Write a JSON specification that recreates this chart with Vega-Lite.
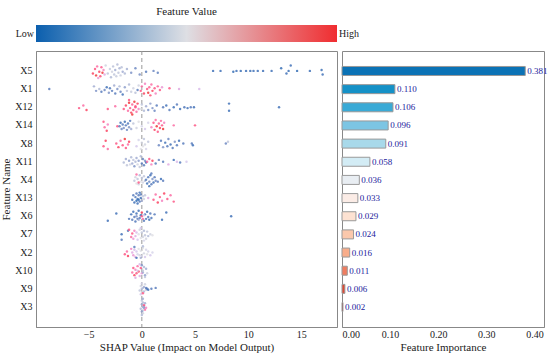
{
"$schema":"https://vega.github.io/schema/vega-lite/v6.json",
"background":"white",
"padding":{"left":0,"top":6,"right":0,"bottom":2},
"config":{"font":"Liberation Serif","view":{"stroke":"#888"},"axis":{"labelFont":"Liberation Serif","titleFont":"Liberation Serif","labelColor":"#222","titleColor":"#222","titleFontWeight":"normal","labelFontSize":10,"titleFontSize":11,"domainColor":"#888","ticks":false,"grid":false}},
"datasets":{
"pts":[
{"f":"X5","s":-4.6,"v":0.95,"j":0.3},{"f":"X5","s":-4.4,"v":0.9,"j":-0.2},{"f":"X5","s":-4.3,"v":1,"j":0.5},{"f":"X5","s":-4.2,"v":0.85,"j":-0.5},{"f":"X5","s":-4.0,"v":0.95,"j":0.1},{"f":"X5","s":-3.9,"v":0.92,"j":0.6},{"f":"X5","s":-3.8,"v":0.88,"j":-0.4},{"f":"X5","s":-3.7,"v":1,"j":0.2},{"f":"X5","s":-3.6,"v":0.8,"j":-0.1},{"f":"X5","s":-4.1,"v":0.75,"j":0.8},{"f":"X5","s":-3.5,"v":0.7,"j":0.4},
{"f":"X5","s":-3.4,"v":0.45,"j":-0.6},{"f":"X5","s":-3.2,"v":0.4,"j":0.3},{"f":"X5","s":-3.0,"v":0.42,"j":-0.2},{"f":"X5","s":-2.9,"v":0.35,"j":0.7},{"f":"X5","s":-2.8,"v":0.45,"j":0.1},{"f":"X5","s":-2.7,"v":0.38,"j":-0.5},{"f":"X5","s":-2.6,"v":0.4,"j":0.4},{"f":"X5","s":-2.5,"v":0.3,"j":-0.1},{"f":"X5","s":-2.4,"v":0.42,"j":0.6},{"f":"X5","s":-2.3,"v":0.36,"j":-0.7},{"f":"X5","s":-2.2,"v":0.4,"j":0.2},{"f":"X5","s":-2.1,"v":0.33,"j":-0.3},{"f":"X5","s":-2.0,"v":0.44,"j":0.5},{"f":"X5","s":-1.9,"v":0.38,"j":-0.4},{"f":"X5","s":-1.8,"v":0.3,"j":0.1},{"f":"X5","s":-1.6,"v":0.35,"j":0.3},{"f":"X5","s":-1.4,"v":0.32,"j":-0.2},
{"f":"X5","s":-1.0,"v":0.2,"j":0.2},{"f":"X5","s":-0.6,"v":0.15,"j":-0.3},{"f":"X5","s":-0.2,"v":0.18,"j":0.4},{"f":"X5","s":0.4,"v":0.1,"j":0.1},{"f":"X5","s":1.1,"v":0.15,"j":0.0},{"f":"X5","s":1.5,"v":0.12,"j":0.2},
{"f":"X5","s":6.7,"v":0.05,"j":0.0},{"f":"X5","s":7.4,"v":0.05,"j":0.0},{"f":"X5","s":8.6,"v":0.03,"j":0.1},{"f":"X5","s":8.9,"v":0.05,"j":0.0},{"f":"X5","s":9.3,"v":0.04,"j":0.0},{"f":"X5","s":9.8,"v":0.05,"j":0.0},{"f":"X5","s":10.2,"v":0.04,"j":0.0},{"f":"X5","s":10.5,"v":0.05,"j":0.0},{"f":"X5","s":10.9,"v":0.05,"j":0.0},{"f":"X5","s":11.4,"v":0.05,"j":0.0},{"f":"X5","s":12.2,"v":0.05,"j":0.0},{"f":"X5","s":13.1,"v":0.03,"j":-0.3},{"f":"X5","s":13.6,"v":0.05,"j":0.3},{"f":"X5","s":13.8,"v":0.04,"j":0.0},{"f":"X5","s":14.0,"v":0.05,"j":-0.6},{"f":"X5","s":14.6,"v":0.03,"j":0.0},{"f":"X5","s":15.8,"v":0.05,"j":0.0},{"f":"X5","s":16.9,"v":0.04,"j":-0.1},{"f":"X5","s":17.0,"v":0.05,"j":0.4},
{"f":"X1","s":-8.7,"v":0.1,"j":0.0},
{"f":"X1","s":-4.5,"v":0.3,"j":-0.3},{"f":"X1","s":-4.3,"v":0.2,"j":0.2},{"f":"X1","s":-4.0,"v":0.35,"j":0.0},{"f":"X1","s":-3.8,"v":0.1,"j":0.3},{"f":"X1","s":-3.5,"v":0.15,"j":0.1},{"f":"X1","s":-3.3,"v":0.05,"j":-0.2},{"f":"X1","s":-3.1,"v":0.2,"j":0.4},{"f":"X1","s":-3.0,"v":0.08,"j":-0.1},{"f":"X1","s":-2.8,"v":0.12,"j":0.2},{"f":"X1","s":-2.6,"v":0.3,"j":-0.4},{"f":"X1","s":-2.5,"v":0.1,"j":0.5},{"f":"X1","s":-2.3,"v":0.2,"j":0.0},{"f":"X1","s":-2.1,"v":0.35,"j":-0.3},{"f":"X1","s":-2.0,"v":0.15,"j":0.3},{"f":"X1","s":-1.8,"v":0.05,"j":0.6},{"f":"X1","s":-1.6,"v":0.25,"j":-0.2},{"f":"X1","s":-1.4,"v":0.4,"j":0.2},{"f":"X1","s":-1.2,"v":0.35,"j":-0.5},{"f":"X1","s":-1.0,"v":0.42,"j":0.3},{"f":"X1","s":-0.8,"v":0.45,"j":-0.1},{"f":"X1","s":-0.6,"v":0.38,"j":0.4},{"f":"X1","s":-0.4,"v":0.1,"j":0.1},{"f":"X1","s":-0.3,"v":0.45,"j":-0.4},
{"f":"X1","s":-0.1,"v":0.9,"j":0.2},{"f":"X1","s":0.0,"v":0.85,"j":-0.3},{"f":"X1","s":0.2,"v":0.95,"j":0.5},{"f":"X1","s":0.3,"v":0.8,"j":-0.6},{"f":"X1","s":0.5,"v":0.9,"j":0.0},{"f":"X1","s":0.6,"v":1,"j":0.4},{"f":"X1","s":0.7,"v":0.88,"j":-0.2},{"f":"X1","s":0.8,"v":0.92,"j":0.7},{"f":"X1","s":0.9,"v":0.85,"j":-0.5},{"f":"X1","s":1.0,"v":0.95,"j":0.2},{"f":"X1","s":1.2,"v":0.9,"j":-0.1},{"f":"X1","s":1.3,"v":0.8,"j":0.5},{"f":"X1","s":1.5,"v":0.87,"j":-0.3},{"f":"X1","s":1.7,"v":0.9,"j":0.1},{"f":"X1","s":1.9,"v":0.75,"j":-0.2},{"f":"X1","s":2.6,"v":0.9,"j":-0.1},{"f":"X1","s":3.5,"v":0.7,"j":0.0},{"f":"X1","s":5.4,"v":0.65,"j":0.0},
{"f":"X12","s":-5.9,"v":0.9,"j":0.1},{"f":"X12","s":-5.5,"v":0.85,"j":-0.2},{"f":"X12","s":-5.2,"v":0.95,"j":0.3},{"f":"X12","s":-3.2,"v":0.9,"j":0.2},{"f":"X12","s":-2.5,"v":0.85,"j":-0.1},
{"f":"X12","s":-1.7,"v":0.9,"j":0.2},{"f":"X12","s":-1.5,"v":0.95,"j":-0.2},{"f":"X12","s":-1.3,"v":0.85,"j":0.4},{"f":"X12","s":-1.2,"v":1,"j":-0.5},{"f":"X12","s":-1.1,"v":0.9,"j":0.1},{"f":"X12","s":-1.0,"v":0.95,"j":0.6},{"f":"X12","s":-0.9,"v":0.88,"j":-0.3},{"f":"X12","s":-0.8,"v":0.92,"j":0.3},{"f":"X12","s":-0.7,"v":1,"j":-0.6},{"f":"X12","s":-0.6,"v":0.9,"j":0.0},{"f":"X12","s":-0.5,"v":0.85,"j":0.5},{"f":"X12","s":-0.4,"v":0.95,"j":-0.4},{"f":"X12","s":-0.3,"v":0.8,"j":0.2},{"f":"X12","s":-0.6,"v":0.9,"j":-0.1},{"f":"X12","s":-0.9,"v":1,"j":0.8},{"f":"X12","s":-1.2,"v":0.9,"j":-0.8},
{"f":"X12","s":-0.1,"v":0.5,"j":0.2},{"f":"X12","s":0.0,"v":0.4,"j":-0.3},{"f":"X12","s":0.2,"v":0.35,"j":0.4},{"f":"X12","s":0.4,"v":0.3,"j":-0.1},{"f":"X12","s":0.6,"v":0.2,"j":0.3},{"f":"X12","s":0.8,"v":0.25,"j":-0.4},{"f":"X12","s":1.0,"v":0.2,"j":0.1},{"f":"X12","s":1.2,"v":0.15,"j":0.4},{"f":"X12","s":1.4,"v":0.1,"j":-0.2},
{"f":"X12","s":2.0,"v":0.1,"j":0.0},{"f":"X12","s":2.3,"v":0.05,"j":-0.2},{"f":"X12","s":2.6,"v":0.1,"j":0.3},{"f":"X12","s":3.0,"v":0.05,"j":0.0},{"f":"X12","s":3.3,"v":0.1,"j":-0.3},{"f":"X12","s":3.6,"v":0.05,"j":0.2},{"f":"X12","s":4.0,"v":0.08,"j":0.0},{"f":"X12","s":4.3,"v":0.05,"j":0.1},{"f":"X12","s":4.6,"v":0.1,"j":0.0},{"f":"X12","s":4.9,"v":0.05,"j":0.0},{"f":"X12","s":8.2,"v":0.05,"j":-0.4},{"f":"X12","s":8.2,"v":0.05,"j":0.4},{"f":"X12","s":12.9,"v":0.05,"j":0.0},
{"f":"X14","s":-3.6,"v":0.9,"j":-0.4},{"f":"X14","s":-3.5,"v":0.85,"j":0.2},{"f":"X14","s":-3.3,"v":0.95,"j":0.6},{"f":"X14","s":-3.2,"v":0.8,"j":-0.1},{"f":"X14","s":-2.3,"v":0.9,"j":0.1},
{"f":"X14","s":-2.1,"v":0.1,"j":0.1},{"f":"X14","s":-2.0,"v":0.05,"j":-0.3},{"f":"X14","s":-1.9,"v":0.15,"j":0.4},{"f":"X14","s":-1.8,"v":0.1,"j":-0.1},{"f":"X14","s":-1.7,"v":0.2,"j":0.3},{"f":"X14","s":-1.6,"v":0.05,"j":-0.4},{"f":"X14","s":-1.5,"v":0.1,"j":0.0},{"f":"X14","s":-1.4,"v":0.15,"j":0.5},{"f":"X14","s":-1.3,"v":0.08,"j":-0.2},{"f":"X14","s":-1.2,"v":0.2,"j":0.2},{"f":"X14","s":-1.1,"v":0.1,"j":-0.5},{"f":"X14","s":-1.0,"v":0.3,"j":0.4},
{"f":"X14","s":-0.8,"v":0.4,"j":-0.2},{"f":"X14","s":-0.5,"v":0.45,"j":0.3},{"f":"X14","s":-0.3,"v":0.5,"j":-0.4},{"f":"X14","s":0.0,"v":0.55,"j":0.1},{"f":"X14","s":0.3,"v":0.6,"j":0.4},{"f":"X14","s":0.6,"v":0.55,"j":-0.3},
{"f":"X14","s":0.9,"v":0.8,"j":0.2},{"f":"X14","s":1.1,"v":0.9,"j":-0.3},{"f":"X14","s":1.2,"v":0.95,"j":0.5},{"f":"X14","s":1.3,"v":0.85,"j":-0.6},{"f":"X14","s":1.4,"v":1,"j":0.1},{"f":"X14","s":1.5,"v":0.9,"j":0.7},{"f":"X14","s":1.6,"v":0.88,"j":-0.2},{"f":"X14","s":1.7,"v":0.95,"j":0.3},{"f":"X14","s":1.8,"v":0.85,"j":-0.5},{"f":"X14","s":1.9,"v":0.9,"j":0.0},{"f":"X14","s":2.0,"v":1,"j":0.4},{"f":"X14","s":2.1,"v":0.8,"j":-0.3},{"f":"X14","s":3.0,"v":0.85,"j":0.0},{"f":"X14","s":5.0,"v":0.9,"j":0.0},
{"f":"X8","s":-3.6,"v":0.9,"j":0.3},{"f":"X8","s":-3.4,"v":0.95,"j":-0.3},{"f":"X8","s":-3.2,"v":0.85,"j":0.6},
{"f":"X8","s":-2.4,"v":0.9,"j":0.0},{"f":"X8","s":-2.2,"v":0.95,"j":0.4},{"f":"X8","s":-2.0,"v":0.85,"j":-0.3},{"f":"X8","s":-1.8,"v":0.9,"j":0.2},{"f":"X8","s":-1.6,"v":1,"j":-0.5},{"f":"X8","s":-1.5,"v":0.9,"j":0.5},{"f":"X8","s":-1.3,"v":0.85,"j":0.1},{"f":"X8","s":-1.2,"v":0.95,"j":-0.2},
{"f":"X8","s":-0.5,"v":0.6,"j":0.3},{"f":"X8","s":-0.3,"v":0.55,"j":-0.4},{"f":"X8","s":-0.1,"v":0.5,"j":0.6},{"f":"X8","s":0.0,"v":0.45,"j":-0.1},{"f":"X8","s":0.1,"v":0.5,"j":0.3},{"f":"X8","s":0.2,"v":0.4,"j":-0.5},{"f":"X8","s":0.3,"v":0.45,"j":0.1},{"f":"X8","s":0.4,"v":0.55,"j":0.6},{"f":"X8","s":0.6,"v":0.4,"j":-0.2},
{"f":"X8","s":1.6,"v":0.15,"j":0.2},{"f":"X8","s":1.8,"v":0.1,"j":-0.3},{"f":"X8","s":2.0,"v":0.2,"j":0.4},{"f":"X8","s":2.2,"v":0.05,"j":-0.1},{"f":"X8","s":2.4,"v":0.1,"j":0.3},{"f":"X8","s":2.5,"v":0.15,"j":-0.5},{"f":"X8","s":2.7,"v":0.05,"j":0.1},{"f":"X8","s":2.9,"v":0.1,"j":0.5},{"f":"X8","s":3.1,"v":0.2,"j":-0.2},{"f":"X8","s":3.3,"v":0.1,"j":0.2},{"f":"X8","s":3.5,"v":0.05,"j":-0.3},{"f":"X8","s":3.9,"v":0.1,"j":0.0},{"f":"X8","s":4.7,"v":0.1,"j":0.0},{"f":"X8","s":4.8,"v":0.05,"j":0.2},{"f":"X8","s":7.9,"v":0.15,"j":0.0},{"f":"X8","s":8.1,"v":0.4,"j":-0.2},
{"f":"X11","s":-1.7,"v":0.35,"j":0.1},{"f":"X11","s":-1.5,"v":0.3,"j":-0.3},{"f":"X11","s":-1.4,"v":0.4,"j":0.4},{"f":"X11","s":-1.2,"v":0.25,"j":-0.1},{"f":"X11","s":-1.1,"v":0.45,"j":0.3},{"f":"X11","s":-1.0,"v":0.35,"j":-0.5},{"f":"X11","s":-0.9,"v":0.3,"j":0.2},{"f":"X11","s":-0.8,"v":0.4,"j":-0.2},{"f":"X11","s":-0.7,"v":0.2,"j":0.5},{"f":"X11","s":-0.6,"v":0.35,"j":0.0},{"f":"X11","s":-0.5,"v":0.3,"j":-0.4},{"f":"X11","s":-0.4,"v":0.45,"j":0.3},{"f":"X11","s":-0.3,"v":0.25,"j":-0.1},{"f":"X11","s":-0.2,"v":0.4,"j":0.6},{"f":"X11","s":-0.1,"v":0.35,"j":-0.6},{"f":"X11","s":0.0,"v":0.1,"j":0.2},{"f":"X11","s":0.1,"v":0.15,"j":-0.3},{"f":"X11","s":0.2,"v":0.1,"j":0.4},{"f":"X11","s":0.3,"v":0.2,"j":-0.1},{"f":"X11","s":0.4,"v":0.05,"j":0.1},
{"f":"X11","s":0.5,"v":0.85,"j":0.0},{"f":"X11","s":0.7,"v":0.9,"j":-0.3},{"f":"X11","s":0.9,"v":0.8,"j":0.3},{"f":"X11","s":1.0,"v":0.95,"j":-0.1},
{"f":"X11","s":1.3,"v":0.1,"j":0.2},{"f":"X11","s":1.6,"v":0.15,"j":-0.2},{"f":"X11","s":2.0,"v":0.1,"j":0.0},{"f":"X11","s":3.0,"v":0.05,"j":-0.2},{"f":"X11","s":3.6,"v":0.1,"j":0.1},{"f":"X11","s":2.5,"v":0.7,"j":0.3},{"f":"X11","s":3.3,"v":0.65,"j":0.0},{"f":"X11","s":4.2,"v":0.6,"j":0.0},
{"f":"X4","s":-0.7,"v":0.4,"j":0.1},{"f":"X4","s":-0.6,"v":0.45,"j":-0.3},{"f":"X4","s":-0.5,"v":0.5,"j":0.4},{"f":"X4","s":-0.4,"v":0.4,"j":-0.1},{"f":"X4","s":-0.3,"v":0.45,"j":0.5},{"f":"X4","s":-0.2,"v":0.35,"j":-0.5},{"f":"X4","s":-0.1,"v":0.5,"j":0.2},{"f":"X4","s":0.0,"v":0.4,"j":-0.2},{"f":"X4","s":0.1,"v":0.45,"j":0.3},{"f":"X4","s":0.2,"v":0.4,"j":-0.4},{"f":"X4","s":0.3,"v":0.35,"j":0.1},{"f":"X4","s":-0.3,"v":0.9,"j":0.3},{"f":"X4","s":-0.5,"v":0.85,"j":-0.6},
{"f":"X4","s":0.4,"v":0.1,"j":0.0},{"f":"X4","s":0.5,"v":0.05,"j":0.4},{"f":"X4","s":0.6,"v":0.1,"j":-0.3},{"f":"X4","s":0.7,"v":0.15,"j":0.2},{"f":"X4","s":0.8,"v":0.05,"j":-0.5},{"f":"X4","s":0.9,"v":0.1,"j":0.5},{"f":"X4","s":1.0,"v":0.2,"j":-0.1},{"f":"X4","s":1.1,"v":0.05,"j":0.3},{"f":"X4","s":1.2,"v":0.1,"j":-0.3},{"f":"X4","s":1.3,"v":0.15,"j":0.1},{"f":"X4","s":0.7,"v":0.05,"j":0.7},{"f":"X4","s":0.9,"v":0.1,"j":-0.7},{"f":"X4","s":1.5,"v":0.1,"j":0.2},{"f":"X4","s":1.8,"v":0.05,"j":-0.1},{"f":"X4","s":2.0,"v":0.1,"j":0.1},
{"f":"X13","s":-0.9,"v":0.05,"j":0.2},{"f":"X13","s":-0.8,"v":0.1,"j":-0.3},{"f":"X13","s":-0.7,"v":0.05,"j":0.5},{"f":"X13","s":-0.6,"v":0.08,"j":-0.1},{"f":"X13","s":-0.5,"v":0.02,"j":0.3},{"f":"X13","s":-0.5,"v":0.1,"j":-0.5},{"f":"X13","s":-0.4,"v":0.05,"j":0.1},{"f":"X13","s":-0.4,"v":0.05,"j":0.6},{"f":"X13","s":-0.3,"v":0.1,"j":-0.3},{"f":"X13","s":-0.3,"v":0.03,"j":0.2},{"f":"X13","s":-0.2,"v":0.05,"j":-0.6},{"f":"X13","s":-0.2,"v":0.08,"j":0.4},{"f":"X13","s":-0.1,"v":0.05,"j":0.0},{"f":"X13","s":-0.1,"v":0.1,"j":-0.4},{"f":"X13","s":0.0,"v":0.3,"j":0.3},{"f":"X13","s":0.1,"v":0.4,"j":-0.2},{"f":"X13","s":0.2,"v":0.45,"j":0.1},{"f":"X13","s":0.3,"v":0.4,"j":-0.3},
{"f":"X13","s":1.1,"v":0.9,"j":0.2},{"f":"X13","s":1.3,"v":0.85,"j":-0.4},{"f":"X13","s":1.5,"v":0.95,"j":0.5},{"f":"X13","s":1.7,"v":0.9,"j":-0.1},{"f":"X13","s":1.9,"v":0.8,"j":0.3},{"f":"X13","s":2.1,"v":0.95,"j":-0.5},{"f":"X13","s":2.4,"v":0.9,"j":0.1},{"f":"X13","s":2.7,"v":0.85,"j":-0.3},{"f":"X13","s":3.0,"v":0.9,"j":0.4},{"f":"X13","s":0.6,"v":0.7,"j":0.0},
{"f":"X6","s":-3.2,"v":0.05,"j":0.5},{"f":"X6","s":-2.4,"v":0.05,"j":-0.3},{"f":"X6","s":-1.2,"v":0.1,"j":0.3},{"f":"X6","s":-1.0,"v":0.05,"j":-0.2},{"f":"X6","s":-0.9,"v":0.1,"j":0.4},{"f":"X6","s":-0.8,"v":0.05,"j":-0.5},{"f":"X6","s":-0.7,"v":0.1,"j":0.1},{"f":"X6","s":-0.6,"v":0.08,"j":0.6},{"f":"X6","s":-0.5,"v":0.05,"j":-0.3},{"f":"X6","s":-0.4,"v":0.1,"j":0.3},{"f":"X6","s":-0.3,"v":0.05,"j":-0.6},{"f":"X6","s":-0.2,"v":0.1,"j":0.2},{"f":"X6","s":-0.1,"v":0.05,"j":-0.1},{"f":"X6","s":0.0,"v":0.9,"j":0.0},{"f":"X6","s":0.1,"v":0.85,"j":0.3},{"f":"X6","s":0.0,"v":0.95,"j":-0.4},{"f":"X6","s":0.2,"v":0.1,"j":0.5},{"f":"X6","s":0.3,"v":0.05,"j":-0.2},{"f":"X6","s":0.4,"v":0.1,"j":0.3},{"f":"X6","s":0.5,"v":0.05,"j":-0.5},{"f":"X6","s":0.6,"v":0.1,"j":0.1},{"f":"X6","s":0.7,"v":0.05,"j":0.4},{"f":"X6","s":0.8,"v":0.1,"j":-0.3},{"f":"X6","s":0.9,"v":0.08,"j":0.2},{"f":"X6","s":1.2,"v":0.1,"j":-0.2},{"f":"X6","s":1.9,"v":0.05,"j":0.4},{"f":"X6","s":2.3,"v":0.05,"j":-0.4},{"f":"X6","s":8.4,"v":0.05,"j":0.0},{"f":"X6","s":-0.3,"v":0.3,"j":0.4},{"f":"X6","s":0.2,"v":0.6,"j":-0.1},{"f":"X6","s":-0.5,"v":0.2,"j":0.0},
{"f":"X7","s":-1.9,"v":0.05,"j":0.0},{"f":"X7","s":-1.9,"v":0.1,"j":0.6},{"f":"X7","s":-1.3,"v":0.1,"j":-0.4},{"f":"X7","s":-1.2,"v":0.9,"j":-0.5},{"f":"X7","s":-1.0,"v":0.85,"j":0.3},{"f":"X7","s":-0.9,"v":0.9,"j":-0.1},{"f":"X7","s":-0.8,"v":0.75,"j":0.5},{"f":"X7","s":-0.7,"v":0.8,"j":-0.4},{"f":"X7","s":-0.6,"v":0.7,"j":0.2},{"f":"X7","s":-0.5,"v":0.65,"j":-0.2},{"f":"X7","s":-0.4,"v":0.6,"j":0.6},
{"f":"X7","s":-0.3,"v":0.5,"j":0.0},{"f":"X7","s":-0.2,"v":0.45,"j":-0.5},{"f":"X7","s":-0.1,"v":0.5,"j":0.4},{"f":"X7","s":0.0,"v":0.4,"j":-0.2},{"f":"X7","s":0.1,"v":0.45,"j":0.3},{"f":"X7","s":0.2,"v":0.35,"j":-0.4},{"f":"X7","s":0.3,"v":0.4,"j":0.1},{"f":"X7","s":0.4,"v":0.45,"j":0.5},{"f":"X7","s":0.5,"v":0.4,"j":-0.3},{"f":"X7","s":0.6,"v":0.35,"j":0.2},{"f":"X7","s":0.8,"v":0.45,"j":0.0},{"f":"X7","s":1.0,"v":0.5,"j":0.1},{"f":"X7","s":0.2,"v":0.55,"j":0.7},{"f":"X7","s":-0.1,"v":0.6,"j":-0.7},
{"f":"X2","s":-1.6,"v":0.9,"j":0.2},{"f":"X2","s":-1.4,"v":0.85,"j":-0.1},{"f":"X2","s":-1.3,"v":0.95,"j":0.4},{"f":"X2","s":-1.0,"v":0.8,"j":-0.4},{"f":"X2","s":-0.9,"v":0.7,"j":0.0},{"f":"X2","s":-0.8,"v":0.75,"j":0.3},{"f":"X2","s":-0.7,"v":0.65,"j":-0.3},{"f":"X2","s":-0.6,"v":0.7,"j":0.5},{"f":"X2","s":-0.5,"v":0.6,"j":-0.1},{"f":"X2","s":-0.7,"v":0.1,"j":-0.6},{"f":"X2","s":-0.5,"v":0.05,"j":0.6},
{"f":"X2","s":-0.4,"v":0.55,"j":0.2},{"f":"X2","s":-0.3,"v":0.5,"j":-0.4},{"f":"X2","s":-0.2,"v":0.45,"j":0.3},{"f":"X2","s":-0.1,"v":0.5,"j":-0.2},{"f":"X2","s":0.0,"v":0.55,"j":0.4},{"f":"X2","s":0.1,"v":0.5,"j":-0.5},{"f":"X2","s":0.2,"v":0.45,"j":0.1},{"f":"X2","s":0.3,"v":0.6,"j":0.5},{"f":"X2","s":0.4,"v":0.55,"j":-0.3},{"f":"X2","s":0.5,"v":0.5,"j":0.2},{"f":"X2","s":0.6,"v":0.55,"j":-0.1},{"f":"X2","s":0.8,"v":0.6,"j":0.3},{"f":"X2","s":1.0,"v":0.55,"j":0.0},{"f":"X2","s":-0.1,"v":0.3,"j":0.6},{"f":"X2","s":0.1,"v":0.35,"j":-0.7},
{"f":"X10","s":-0.9,"v":0.85,"j":0.2},{"f":"X10","s":-0.8,"v":0.9,"j":-0.3},{"f":"X10","s":-0.7,"v":0.95,"j":0.5},{"f":"X10","s":-0.6,"v":0.8,"j":-0.1},{"f":"X10","s":-0.5,"v":0.9,"j":0.3},{"f":"X10","s":-0.4,"v":0.85,"j":-0.5},{"f":"X10","s":-0.3,"v":0.95,"j":0.1},{"f":"X10","s":-0.2,"v":0.7,"j":0.6},{"f":"X10","s":-0.1,"v":0.9,"j":-0.3},{"f":"X10","s":0.0,"v":0.75,"j":0.3},{"f":"X10","s":-0.4,"v":0.6,"j":0.0},{"f":"X10","s":-0.2,"v":0.65,"j":-0.7},{"f":"X10","s":0.1,"v":0.3,"j":0.2},{"f":"X10","s":0.2,"v":0.35,"j":-0.4},{"f":"X10","s":0.3,"v":0.25,"j":0.5},{"f":"X10","s":0.4,"v":0.3,"j":-0.2},{"f":"X10","s":0.1,"v":0.4,"j":0.0},{"f":"X10","s":0.3,"v":0.4,"j":0.7},{"f":"X10","s":0.0,"v":0.2,"j":-0.6},{"f":"X10","s":0.5,"v":0.45,"j":0.3},{"f":"X10","s":-0.6,"v":0.7,"j":0.8},
{"f":"X9","s":-0.2,"v":0.4,"j":0.2},{"f":"X9","s":-0.1,"v":0.45,"j":-0.3},{"f":"X9","s":0.0,"v":0.5,"j":0.4},{"f":"X9","s":0.1,"v":0.4,"j":-0.1},{"f":"X9","s":0.2,"v":0.35,"j":0.3},{"f":"X9","s":0.3,"v":0.45,"j":-0.5},{"f":"X9","s":0.4,"v":0.4,"j":0.1},{"f":"X9","s":0.0,"v":0.55,"j":-0.6},{"f":"X9","s":-0.1,"v":0.6,"j":0.6},{"f":"X9","s":0.2,"v":0.3,"j":-0.2},{"f":"X9","s":0.5,"v":0.1,"j":0.0},{"f":"X9","s":0.6,"v":0.05,"j":0.1},{"f":"X9","s":0.4,"v":0.1,"j":-0.1},{"f":"X9","s":0.9,"v":0.1,"j":0.0},{"f":"X9","s":1.3,"v":0.1,"j":-0.1},{"f":"X9","s":0.1,"v":0.9,"j":0.5},{"f":"X9","s":0.0,"v":0.35,"j":0.0},
{"f":"X3","s":-0.1,"v":0.35,"j":0.2},{"f":"X3","s":0.0,"v":0.3,"j":-0.3},{"f":"X3","s":0.1,"v":0.4,"j":0.4},{"f":"X3","s":0.2,"v":0.3,"j":-0.1},{"f":"X3","s":0.0,"v":0.25,"j":0.5},{"f":"X3","s":0.1,"v":0.35,"j":-0.5},{"f":"X3","s":0.2,"v":0.2,"j":0.1},{"f":"X3","s":0.3,"v":0.3,"j":-0.4},{"f":"X3","s":0.1,"v":0.45,"j":0.7},{"f":"X3","s":0.0,"v":0.4,"j":-0.7},{"f":"X3","s":0.3,"v":0.85,"j":0.3},{"f":"X3","s":0.2,"v":0.9,"j":-0.2},{"f":"X3","s":0.4,"v":0.8,"j":0.1},{"f":"X3","s":0.1,"v":0.3,"j":0.0},{"f":"X3","s":0.0,"v":0.35,"j":0.9},{"f":"X3","s":0.1,"v":0.3,"j":-0.9}
],
"imp":[
{"f":"X5","imp":0.381},{"f":"X1","imp":0.110},{"f":"X12","imp":0.106},{"f":"X14","imp":0.096},{"f":"X8","imp":0.091},{"f":"X11","imp":0.058},{"f":"X4","imp":0.036},{"f":"X13","imp":0.033},{"f":"X6","imp":0.029},{"f":"X7","imp":0.024},{"f":"X2","imp":0.016},{"f":"X10","imp":0.011},{"f":"X9","imp":0.006},{"f":"X3","imp":0.002}
]
},
"bounds":"flush",
"spacing":9,
"vconcat":[
{
"width":301,"height":17,
"title":{"text":"Feature Value","fontSize":11,"fontWeight":"normal","font":"Liberation Serif","offset":8,"color":"#222"},
"view":{"stroke":null},
"data":{"values":[{"lo":"Low","hi":"High","a":0,"b":1}]},
"layer":[
{"mark":{"type":"rect","color":{"gradient":"linear","stops":[{"offset":0,"color":"#0b5fae"},{"offset":0.5,"color":"#dedfe4"},{"offset":1,"color":"#f02d30"}]}},
 "encoding":{"x":{"field":"a","type":"quantitative","scale":{"domain":[0,1],"nice":false},"axis":null},"x2":{"field":"b"}}},
{"mark":{"type":"text","align":"right","dx":-2,"fontSize":10,"font":"Liberation Serif","color":"#222"},"encoding":{"x":{"field":"a","type":"quantitative"},"text":{"field":"lo"}}},
{"mark":{"type":"text","align":"left","dx":2,"fontSize":10,"font":"Liberation Serif","color":"#222"},"encoding":{"x":{"field":"b","type":"quantitative"},"text":{"field":"hi"}}}
]
},
{
"hconcat":[
{
"width":301,"height":276,
"layer":[
{"data":{"values":[{"z":0}]},"mark":{"type":"rule","color":"#999","strokeDash":[4,3],"strokeWidth":1},"encoding":{"x":{"field":"z","type":"quantitative"}}},
{"data":{"name":"pts"},"mark":{"type":"circle","size":6,"opacity":0.8},
 "encoding":{
  "x":{"field":"s","type":"quantitative","scale":{"domain":[-9.95,18.35],"nice":false,"zero":false},"axis":{"values":[-5,0,5,10,15],"title":"SHAP Value (Impact on Model Output)","labelPadding":2,"titlePadding":2}},
  "y":{"field":"f","type":"nominal","sort":["X5","X1","X12","X14","X8","X11","X4","X13","X6","X7","X2","X10","X9","X3"],"scale":{"type":"band","paddingInner":0,"paddingOuter":0.6},"axis":{"title":"Feature Name","labelPadding":4,"titlePadding":3}},
  "yOffset":{"field":"j","type":"quantitative","scale":{"domain":[-1,1],"range":[0,18]}},
  "color":{"field":"v","type":"quantitative","scale":{"domain":[0,0.5,1],"range":["#0b5fae","#dedfe4","#f02d30"]},"legend":null}
 }}
]
},
{
"width":202,"height":276,
"data":{"name":"imp"},
"encoding":{
  "y":{"field":"f","type":"nominal","sort":["X5","X1","X12","X14","X8","X11","X4","X13","X6","X7","X2","X10","X9","X3"],"scale":{"type":"band","paddingInner":0,"paddingOuter":0.6},"axis":null},
  "x":{"field":"imp","type":"quantitative","scale":{"domain":[0,0.42],"nice":false},"axis":{"values":[0,0.05,0.1,0.15,0.2,0.25,0.3,0.35,0.4],"format":".2f","title":"Feature Importance","labelPadding":2,"titlePadding":2}}
},
"layer":[
{"mark":{"type":"bar","stroke":"#999","strokeWidth":1,"size":9},
 "encoding":{
  "color":{"field":"f","type":"nominal","scale":{"domain":["X5","X1","X12","X14","X8","X11","X4","X13","X6","X7","X2","X10","X9","X3"],"range":["#0b72b5","#1591c7","#3aaad6","#7cc5e3","#a8d9ea","#d3ecf5","#e9eef3","#fbece6","#fde2d2","#fbc8ac","#f8ad8b","#ef7d60","#dd4a35","#8e1a1a"]},"legend":null}
 }},
{"mark":{"type":"text","align":"left","dx":2,"fontSize":9,"font":"Liberation Serif","color":"#22229c"},
 "encoding":{
  "text":{"field":"imp","type":"quantitative","format":".3f"}
 }}
]
}
],
"resolve":{"scale":{"y":"independent"}},
"spacing":5,
"bounds":"flush"
}
]
}
